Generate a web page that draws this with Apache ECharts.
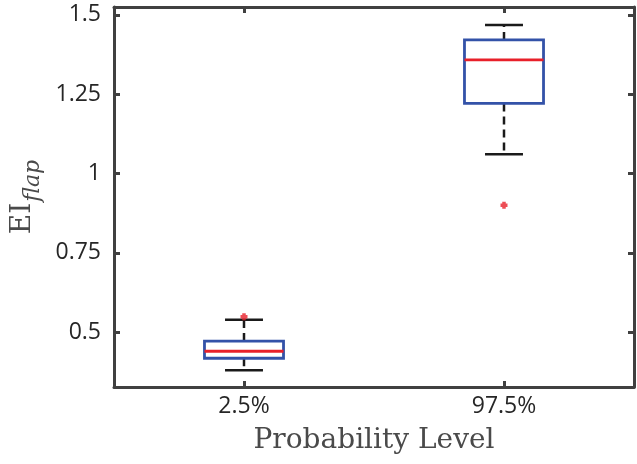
<!DOCTYPE html>
<html>
<head>
<meta charset="utf-8">
<script src="https://cdn.jsdelivr.net/npm/echarts@6/dist/echarts.min.js"></script>
<style>
  html, body { margin: 0; padding: 0; background: #fff; }
  #chart { width: 637px; height: 464px; }
</style>
</head>
<body>
<div id="chart"></div>
<script>
// dados
var categories = ['2.5%', '97.5%'];
var whiskerLow = [0.380, 1.061];
var q1 = [0.418, 1.221];
var medians = [0.440, 1.358];
var q3 = [0.472, 1.421];
var whiskerHigh = [0.539, 1.468];
var outlierCat = [0, 1];
var outlierVal = [0.549, 0.900];
var yTicks = [0.5, 0.75, 1, 1.25, 1.5];

var boxData = categories.map(function (c, i) {
    return [i, whiskerLow[i], q1[i], medians[i], q3[i], whiskerHigh[i]];
});
var outlierData = outlierCat.map(function (c, i) {
    return [c, outlierVal[i]];
});

var axisColor = '#404040';
var textColor = '#262626';

function renderBox(params, api) {
    var x = api.value(0);
    var pLow = api.coord([x, api.value(1)]);
    var pQ1 = api.coord([x, api.value(2)]);
    var pMed = api.coord([x, api.value(3)]);
    var pQ3 = api.coord([x, api.value(4)]);
    var pHigh = api.coord([x, api.value(5)]);
    var band = api.size([1, 0])[0];
    var boxHalf = band * 0.152;
    var capHalf = band * 0.073;
    var cx = pMed[0];
    var dashed = { stroke: '#1a1a1a', lineWidth: 2.5, lineDash: [8, 5] };
    var solid = { stroke: '#1a1a1a', lineWidth: 2.5 };
    return {
        type: 'group',
        children: [
            { type: 'line', shape: { x1: cx, y1: pQ3[1], x2: cx, y2: pHigh[1] }, style: dashed },
            { type: 'line', shape: { x1: cx, y1: pQ1[1], x2: cx, y2: pLow[1] }, style: dashed },
            { type: 'line', shape: { x1: cx - capHalf, y1: pHigh[1], x2: cx + capHalf, y2: pHigh[1] }, style: solid },
            { type: 'line', shape: { x1: cx - capHalf, y1: pLow[1], x2: cx + capHalf, y2: pLow[1] }, style: solid },
            {
                type: 'rect',
                shape: { x: cx - boxHalf, y: pQ3[1], width: boxHalf * 2, height: pQ1[1] - pQ3[1] },
                style: { fill: 'rgba(255,255,255,0)', stroke: '#3352a8', lineWidth: 2.8 }
            },
            { type: 'line', shape: { x1: cx - boxHalf, y1: pMed[1], x2: cx + boxHalf, y2: pMed[1] }, style: { stroke: '#e8202a', lineWidth: 2.8 } }
        ]
    };
}

var chart = echarts.init(document.getElementById('chart'), null, { renderer: 'canvas' });

var tickStyle = { show: true, inside: true, length: 6, lineStyle: { color: axisColor, width: 3 } };
var lineStyle = { show: true, lineStyle: { color: axisColor, width: 3 } };

chart.setOption({
    animation: false,
    grid: { left: 114, right: 3, top: 7, bottom: 77 },
    xAxis: [
        {
            type: 'category',
            data: categories,
            position: 'bottom',
            boundaryGap: true,
            axisLine: lineStyle,
            axisTick: Object.assign({ alignWithLabel: true }, tickStyle),
            axisLabel: { color: textColor, fontSize: 23, fontFamily: 'Open Sans', margin: 8 },
            name: 'Probability Level',
            nameLocation: 'middle',
            nameGap: 40,
            nameTextStyle: { color: '#4a4a4a', fontSize: 28, fontFamily: 'DejaVu Serif' },
            splitLine: { show: false }
        },
        {
            type: 'category',
            data: categories,
            position: 'top',
            boundaryGap: true,
            axisLine: lineStyle,
            axisTick: Object.assign({ alignWithLabel: true }, tickStyle),
            axisLabel: { show: false },
            splitLine: { show: false }
        }
    ],
    yAxis: [
        {
            type: 'value',
            position: 'left',
            min: 0.3274,
            max: 1.5248,
            axisLine: lineStyle,
            axisTick: Object.assign({ customValues: yTicks }, tickStyle),
            axisLabel: { customValues: yTicks, color: textColor, fontSize: 23, fontFamily: 'Open Sans', margin: 13 },
            splitLine: { show: false },
            name: '{m|EI}{s|flap}',
            nameLocation: 'middle',
            nameGap: 66,
            nameTextStyle: {
                color: '#4a4a4a',
                rich: {
                    m: { fontSize: 28, fontFamily: 'DejaVu Serif', color: '#4a4a4a', verticalAlign: 'top' },
                    s: { fontSize: 22, fontFamily: 'DejaVu Serif', fontStyle: 'italic', color: '#4a4a4a', verticalAlign: 'top', padding: [14, 0, 0, 1] }
                }
            }
        },
        {
            type: 'value',
            position: 'right',
            min: 0.3274,
            max: 1.5248,
            axisLine: lineStyle,
            axisTick: Object.assign({ customValues: yTicks }, tickStyle),
            axisLabel: { show: false },
            splitLine: { show: false }
        }
    ],
    series: [
        {
            type: 'custom',
            xAxisIndex: 0,
            yAxisIndex: 0,
            renderItem: renderBox,
            encode: { x: 0, y: [1, 2, 3, 4, 5] },
            data: boxData
        },
        {
            type: 'scatter',
            xAxisIndex: 0,
            yAxisIndex: 0,
            symbol: 'path://M1,0H3V1H4V3H3V4H1V3H0V1H1Z',
            symbolSize: 7,
            itemStyle: { color: '#e8202a' },
            data: outlierData
        }
    ]
});
</script>
</body>
</html>
